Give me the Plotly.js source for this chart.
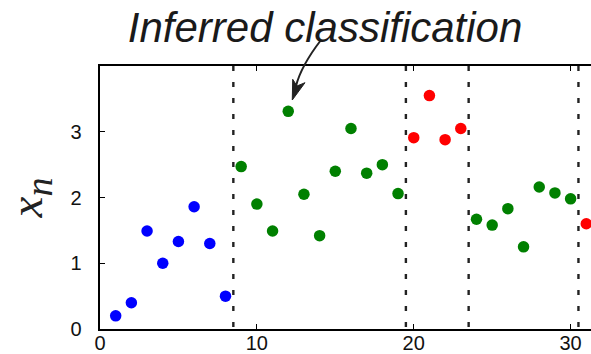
<!DOCTYPE html>
<html>
<head>
<meta charset="utf-8">
<script src="https://cdn.plot.ly/plotly-3.0.1.min.js"></script>
<style>html,body{margin:0;padding:0;background:#fff;}#chart{width:591px;height:354px;}</style>
</head>
<body>
<div id="chart"></div>
<script>
// ---- data ----
var sampleIndex = [1, 2, 3, 4, 5, 6, 7, 8, 9, 10, 11, 12, 13, 14, 15, 16, 17, 18, 19, 20, 21, 22, 23, 24, 25, 26, 27, 28, 29, 30, 31];
var sampleValue = [0.20, 0.40, 1.49, 1.00, 1.33, 1.86, 1.30, 0.50,
                   2.47, 1.90, 1.49, 3.31, 2.05, 1.42, 2.40, 3.05, 2.37, 2.50, 2.06,
                   2.91, 3.55, 2.88, 3.05,
                   1.67, 1.58, 1.83, 1.25, 2.16, 2.07, 1.98,
                   1.60];
var sampleClass = ['blue', 'blue', 'blue', 'blue', 'blue', 'blue', 'blue', 'blue',
                   'green', 'green', 'green', 'green', 'green', 'green', 'green', 'green', 'green', 'green', 'green',
                   'red', 'red', 'red', 'red',
                   'green', 'green', 'green', 'green', 'green', 'green', 'green',
                   'red'];
var classNames = ['blue', 'green', 'red'];
var classColors = ['#0000ff', '#008000', '#ff0000'];
var changePoints = [8.5, 19.5, 23.5, 30.5];
var xTicks = [0, 10, 20, 30];
var yTicks = [0, 1, 2, 3];
var titleText = 'Inferred classification';
var yLabel = '<i>x</i><sub><span style="font-size:38px"><i>n</i></span></sub>';

// ---- build traces ----
var traces = classNames.map(function (c, k) {
  var xs = [], ys = [];
  for (var i = 0; i < sampleIndex.length; i++) {
    if (sampleClass[i] === c) { xs.push(sampleIndex[i]); ys.push(sampleValue[i]); }
  }
  return {
    type: 'scatter', mode: 'markers', x: xs, y: ys, name: c,
    marker: {color: classColors[k], size: 11.5, line: {width: 0}},
    cliponaxis: false, hoverinfo: 'x+y'
  };
});

var shapes = changePoints.map(function (v) {
  return {type: 'line', xref: 'x', yref: 'paper', x0: v, x1: v, y0: 1, y1: 0,
          line: {color: '#222', width: 2.4, dash: '5px,11px'}, layer: 'above'};
});
// curved arrow (paper coordinates)
shapes.push({type: 'path', xref: 'paper', yref: 'paper',
  path: 'M 0.4501 1.0989 Q 0.4094 1.0 0.3992 0.9240',
  line: {color: '#222', width: 2}, fillcolor: 'rgba(0,0,0,0)'});
shapes.push({type: 'path', xref: 'paper', yref: 'paper',
  path: 'M 0.3916 0.8707 L 0.3925 0.9494 L 0.4012 0.9240 L 0.4175 0.9365 Z',
  line: {color: '#222', width: 1}, fillcolor: '#222'});

var axisFont = {family: 'Liberation Sans, Arial, sans-serif', size: 20, color: '#111'};

var layout = {
  width: 591, height: 354,
  margin: {l: 100, r: 0, t: 66, b: 25, pad: 0},
  paper_bgcolor: '#fff', plot_bgcolor: '#fff',
  showlegend: false,
  title: {
    text: titleText, xref: 'container', yref: 'container',
    x: 0.55, xanchor: 'center', y: 1 - 27 / 354, yanchor: 'middle',
    font: {family: 'Liberation Sans, Arial, sans-serif', size: 42, style: 'italic', color: '#1a1a1a'}
  },
  xaxis: {
    range: [0, 31.3], tickvals: xTicks, ticktext: xTicks.map(String),
    ticks: 'inside', ticklen: 5, tickwidth: 1, tickcolor: '#000',
    showline: true, linewidth: 2.4, linecolor: '#000', mirror: 'ticks',
    showgrid: false, zeroline: false, tickfont: axisFont, automargin: false,
    ticklabelstandoff: -5
  },
  yaxis: {
    range: [0, 4], tickvals: yTicks, ticktext: yTicks.map(String),
    ticks: 'inside', ticklen: 5, tickwidth: 1, tickcolor: '#000',
    showline: true, linewidth: 2.4, linecolor: '#000', mirror: false,
    showgrid: false, zeroline: false, tickfont: axisFont, automargin: false,
    ticklabelstandoff: 12,
    title: {text: yLabel, standoff: 13,
            font: {family: 'Liberation Serif, Times New Roman, serif', size: 47, color: '#222'}}
  },
  shapes: shapes
};

Plotly.newPlot('chart', traces, layout, {displayModeBar: false, staticPlot: true});
</script>
</body>
</html>
